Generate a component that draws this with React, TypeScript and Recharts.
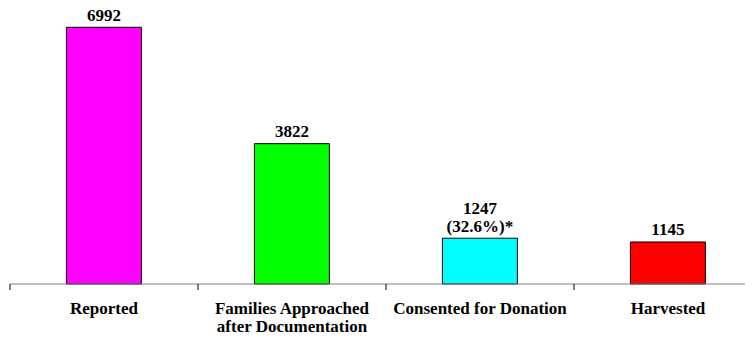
import React from "react";
import { BarChart, Bar, XAxis, YAxis, Cell, LabelList } from "recharts";

const categories = [
  "Reported",
  "Families Approached\nafter Documentation",
  "Consented for Donation",
  "Harvested",
];
const counts = [6992, 3822, 1247, 1145];
const valueLabels = ["6992", "3822", "1247\n(32.6%)*", "1145"];
const colors = ["#FF00FF", "#00FF00", "#00FFFF", "#FF0000"];

const data = categories.map((c, i) => ({
  name: c,
  value: counts[i],
  label: valueLabels[i],
}));

const FONT = "'Liberation Serif', 'Times New Roman', serif";
const textStyle: React.CSSProperties = {
  fontFamily: FONT,
  fontWeight: 700,
  fontSize: 17,
};

const CatTick = (props: any) => {
  const { x, y, payload } = props;
  const lines = String(payload.value).split("\n");
  const off = payload.offset || 0;
  return (
    <g>
      <line x1={x - off} x2={x - off} y1={y - 8} y2={y - 2} stroke="#000" strokeWidth={1} />
      <text x={x} y={y + 22} textAnchor="middle" fill="#000" style={textStyle}>
        {lines.map((l, i) => (
          <tspan key={i} x={x} dy={i === 0 ? 0 : 18}>
            {l}
          </tspan>
        ))}
      </text>
    </g>
  );
};

const ValueLabel = (props: any) => {
  const { x, y, width, value } = props;
  const lines = String(value).split("\n");
  const cx = x + width / 2;
  const base = y - 6.5 - (lines.length - 1) * 18;
  return (
    <text textAnchor="middle" fill="#000" style={textStyle}>
      {lines.map((l, i) => (
        <tspan key={i} x={cx} y={base + i * 18}>
          {l}
        </tspan>
      ))}
    </text>
  );
};

export default function App() {
  return (
    <div style={{ width: 745, height: 338, marginTop: -8, overflow: "hidden" }}>
      <BarChart
        width={754}
        height={338}
        data={data}
        margin={{ top: 27, right: 0, bottom: 8, left: 2 }}
        barCategoryGap="30%"
      >
        <YAxis hide domain={[0, 7000]} />
        <XAxis
          dataKey="name"
          interval={0}
          height={46}
          axisLine={{ stroke: "#808080", strokeWidth: 1 }}
          tickLine={false}
          tick={<CatTick />}
        />
        <Bar dataKey="value" stroke="#000" strokeWidth={1} isAnimationActive={false}>
          {data.map((d, i) => (
            <Cell key={i} fill={colors[i]} />
          ))}
          <LabelList dataKey="label" content={<ValueLabel />} />
        </Bar>
      </BarChart>
    </div>
  );
}
